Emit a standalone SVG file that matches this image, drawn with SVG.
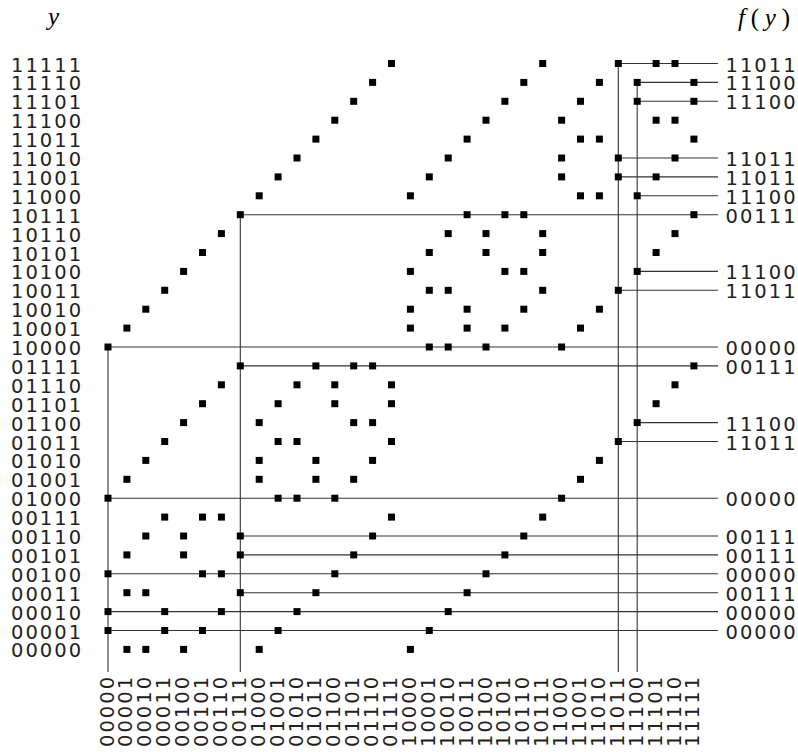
<svg xmlns="http://www.w3.org/2000/svg" xmlns:xlink="http://www.w3.org/1999/xlink" width="798" height="752" viewBox="0 0 798 752">
<style>
.lb{font-family:"DejaVu Sans",sans-serif;font-size:19.5px;fill:#222;letter-spacing:2px}
.m{font-family:"Liberation Serif",serif;font-size:25px;fill:#000}
.it{font-style:italic}
.cn line{stroke:#333;stroke-width:1.1}
</style>
<defs><rect id="d" x="-3.5" y="-3.5" width="7" height="7" fill="#000"/></defs>
<rect width="798" height="752" fill="#fff"/>
<text class="m it" x="48" y="25">y</text>
<text class="m" x="738" y="26" textLength="52" lengthAdjust="spacing"><tspan class="it">f</tspan>(<tspan class="it">y</tspan>)</text>
<g id="labels-y" class="lb">
<text x="11" y="71.5">11111</text><text x="11" y="90.4">11110</text><text x="11" y="109.3">11101</text><text x="11" y="128.2">11100</text>
<text x="11" y="147.1">11011</text><text x="11" y="166">11010</text><text x="11" y="184.9">11001</text><text x="11" y="203.8">11000</text>
<text x="11" y="222.7">10111</text><text x="11" y="241.6">10110</text><text x="11" y="260.5">10101</text><text x="11" y="279.4">10100</text>
<text x="11" y="298.3">10011</text><text x="11" y="317.2">10010</text><text x="11" y="336.1">10001</text><text x="11" y="355">10000</text>
<text x="11" y="373.9">01111</text><text x="11" y="392.8">01110</text><text x="11" y="411.7">01101</text><text x="11" y="430.6">01100</text>
<text x="11" y="449.5">01011</text><text x="11" y="468.4">01010</text><text x="11" y="487.3">01001</text><text x="11" y="506.2">01000</text>
<text x="11" y="525.1">00111</text><text x="11" y="544">00110</text><text x="11" y="562.9">00101</text><text x="11" y="581.8">00100</text>
<text x="11" y="600.7">00011</text><text x="11" y="619.6">00010</text><text x="11" y="638.5">00001</text><text x="11" y="657.4">00000</text>
</g>
<g id="labels-x" class="lb">
<text transform="translate(113.5 747) rotate(-90)">00000</text><text transform="translate(132.4 747) rotate(-90)">00001</text>
<text transform="translate(151.3 747) rotate(-90)">00010</text><text transform="translate(170.2 747) rotate(-90)">00011</text>
<text transform="translate(189.1 747) rotate(-90)">00100</text><text transform="translate(208 747) rotate(-90)">00101</text>
<text transform="translate(226.9 747) rotate(-90)">00110</text><text transform="translate(245.8 747) rotate(-90)">00111</text>
<text transform="translate(264.7 747) rotate(-90)">01000</text><text transform="translate(283.6 747) rotate(-90)">01001</text>
<text transform="translate(302.5 747) rotate(-90)">01010</text><text transform="translate(321.4 747) rotate(-90)">01011</text>
<text transform="translate(340.3 747) rotate(-90)">01100</text><text transform="translate(359.2 747) rotate(-90)">01101</text>
<text transform="translate(378.1 747) rotate(-90)">01110</text><text transform="translate(397 747) rotate(-90)">01111</text>
<text transform="translate(415.9 747) rotate(-90)">10000</text><text transform="translate(434.8 747) rotate(-90)">10001</text>
<text transform="translate(453.7 747) rotate(-90)">10010</text><text transform="translate(472.6 747) rotate(-90)">10011</text>
<text transform="translate(491.5 747) rotate(-90)">10100</text><text transform="translate(510.4 747) rotate(-90)">10101</text>
<text transform="translate(529.3 747) rotate(-90)">10110</text><text transform="translate(548.2 747) rotate(-90)">10111</text>
<text transform="translate(567.1 747) rotate(-90)">11000</text><text transform="translate(586 747) rotate(-90)">11001</text>
<text transform="translate(604.9 747) rotate(-90)">11010</text><text transform="translate(623.8 747) rotate(-90)">11011</text>
<text transform="translate(642.7 747) rotate(-90)">11100</text><text transform="translate(661.6 747) rotate(-90)">11101</text>
<text transform="translate(680.5 747) rotate(-90)">11110</text><text transform="translate(699.4 747) rotate(-90)">11111</text>
</g>
<g id="connectors" class="cn">
<line x1="108" y1="347" x2="108" y2="672"/>
<line x1="240.3" y1="214.7" x2="240.3" y2="672"/>
<line x1="618.3" y1="63.5" x2="618.3" y2="672"/>
<line x1="637.2" y1="82.4" x2="637.2" y2="672"/>
<line x1="618.3" y1="63.5" x2="718" y2="63.5"/>
<line x1="637.2" y1="82.4" x2="718" y2="82.4"/>
<line x1="637.2" y1="101.3" x2="718" y2="101.3"/>
<line x1="618.3" y1="158" x2="718" y2="158"/>
<line x1="618.3" y1="176.9" x2="718" y2="176.9"/>
<line x1="637.2" y1="195.8" x2="718" y2="195.8"/>
<line x1="240.3" y1="214.7" x2="718" y2="214.7"/>
<line x1="637.2" y1="271.4" x2="718" y2="271.4"/>
<line x1="618.3" y1="290.3" x2="718" y2="290.3"/>
<line x1="108" y1="347" x2="718" y2="347"/>
<line x1="240.3" y1="365.9" x2="718" y2="365.9"/>
<line x1="637.2" y1="422.6" x2="718" y2="422.6"/>
<line x1="618.3" y1="441.5" x2="718" y2="441.5"/>
<line x1="108" y1="498.2" x2="718" y2="498.2"/>
<line x1="240.3" y1="536" x2="718" y2="536"/>
<line x1="240.3" y1="554.9" x2="718" y2="554.9"/>
<line x1="108" y1="573.8" x2="718" y2="573.8"/>
<line x1="240.3" y1="592.7" x2="718" y2="592.7"/>
<line x1="108" y1="611.6" x2="718" y2="611.6"/>
<line x1="108" y1="630.5" x2="718" y2="630.5"/>
</g>
<g id="labels-f" class="lb">
<text x="725.5" y="71.5">11011</text><text x="725.5" y="90.4">11100</text><text x="725.5" y="109.3">11100</text>
<text x="725.5" y="166">11011</text><text x="725.5" y="184.9">11011</text><text x="725.5" y="203.8">11100</text>
<text x="725.5" y="222.7">00111</text><text x="725.5" y="279.4">11100</text><text x="725.5" y="298.3">11011</text>
<text x="725.5" y="355">00000</text><text x="725.5" y="373.9">00111</text><text x="725.5" y="430.6">11100</text>
<text x="725.5" y="449.5">11011</text><text x="725.5" y="506.2">00000</text><text x="725.5" y="544">00111</text>
<text x="725.5" y="562.9">00111</text><text x="725.5" y="581.8">00000</text><text x="725.5" y="600.7">00111</text>
<text x="725.5" y="619.6">00000</text><text x="725.5" y="638.5">00000</text>
</g>
<g id="nodes">
<g id="r31"><use href="#d" x="391.5" y="63.5"/><use href="#d" x="542.7" y="63.5"/><use href="#d" x="618.3" y="63.5"/><use href="#d" x="656.1" y="63.5"/><use href="#d" x="675" y="63.5"/></g>
<g id="r30"><use href="#d" x="372.6" y="82.4"/><use href="#d" x="523.8" y="82.4"/><use href="#d" x="599.4" y="82.4"/><use href="#d" x="637.2" y="82.4"/><use href="#d" x="693.9" y="82.4"/></g>
<g id="r29"><use href="#d" x="353.7" y="101.3"/><use href="#d" x="504.9" y="101.3"/><use href="#d" x="580.5" y="101.3"/><use href="#d" x="637.2" y="101.3"/><use href="#d" x="693.9" y="101.3"/></g>
<g id="r28"><use href="#d" x="334.8" y="120.2"/><use href="#d" x="486" y="120.2"/><use href="#d" x="561.6" y="120.2"/><use href="#d" x="656.1" y="120.2"/><use href="#d" x="675" y="120.2"/></g>
<g id="r27"><use href="#d" x="315.9" y="139.1"/><use href="#d" x="467.1" y="139.1"/><use href="#d" x="580.5" y="139.1"/><use href="#d" x="599.4" y="139.1"/><use href="#d" x="693.9" y="139.1"/></g>
<g id="r26"><use href="#d" x="297" y="158"/><use href="#d" x="448.2" y="158"/><use href="#d" x="561.6" y="158"/><use href="#d" x="618.3" y="158"/><use href="#d" x="675" y="158"/></g>
<g id="r25"><use href="#d" x="278.1" y="176.9"/><use href="#d" x="429.3" y="176.9"/><use href="#d" x="561.6" y="176.9"/><use href="#d" x="618.3" y="176.9"/><use href="#d" x="656.1" y="176.9"/></g>
<g id="r24"><use href="#d" x="259.2" y="195.8"/><use href="#d" x="410.4" y="195.8"/><use href="#d" x="580.5" y="195.8"/><use href="#d" x="599.4" y="195.8"/><use href="#d" x="637.2" y="195.8"/></g>
<g id="r23"><use href="#d" x="240.3" y="214.7"/><use href="#d" x="467.1" y="214.7"/><use href="#d" x="504.9" y="214.7"/><use href="#d" x="523.8" y="214.7"/><use href="#d" x="693.9" y="214.7"/></g>
<g id="r22"><use href="#d" x="221.4" y="233.6"/><use href="#d" x="448.2" y="233.6"/><use href="#d" x="486" y="233.6"/><use href="#d" x="542.7" y="233.6"/><use href="#d" x="675" y="233.6"/></g>
<g id="r21"><use href="#d" x="202.5" y="252.5"/><use href="#d" x="429.3" y="252.5"/><use href="#d" x="486" y="252.5"/><use href="#d" x="542.7" y="252.5"/><use href="#d" x="656.1" y="252.5"/></g>
<g id="r20"><use href="#d" x="183.6" y="271.4"/><use href="#d" x="410.4" y="271.4"/><use href="#d" x="504.9" y="271.4"/><use href="#d" x="523.8" y="271.4"/><use href="#d" x="637.2" y="271.4"/></g>
<g id="r19"><use href="#d" x="164.7" y="290.3"/><use href="#d" x="429.3" y="290.3"/><use href="#d" x="448.2" y="290.3"/><use href="#d" x="542.7" y="290.3"/><use href="#d" x="618.3" y="290.3"/></g>
<g id="r18"><use href="#d" x="145.8" y="309.2"/><use href="#d" x="410.4" y="309.2"/><use href="#d" x="467.1" y="309.2"/><use href="#d" x="523.8" y="309.2"/><use href="#d" x="599.4" y="309.2"/></g>
<g id="r17"><use href="#d" x="126.9" y="328.1"/><use href="#d" x="410.4" y="328.1"/><use href="#d" x="467.1" y="328.1"/><use href="#d" x="504.9" y="328.1"/><use href="#d" x="580.5" y="328.1"/></g>
<g id="r16"><use href="#d" x="108" y="347"/><use href="#d" x="429.3" y="347"/><use href="#d" x="448.2" y="347"/><use href="#d" x="486" y="347"/><use href="#d" x="561.6" y="347"/></g>
<g id="r15"><use href="#d" x="240.3" y="365.9"/><use href="#d" x="315.9" y="365.9"/><use href="#d" x="353.7" y="365.9"/><use href="#d" x="372.6" y="365.9"/><use href="#d" x="693.9" y="365.9"/></g>
<g id="r14"><use href="#d" x="221.4" y="384.8"/><use href="#d" x="297" y="384.8"/><use href="#d" x="334.8" y="384.8"/><use href="#d" x="391.5" y="384.8"/><use href="#d" x="675" y="384.8"/></g>
<g id="r13"><use href="#d" x="202.5" y="403.7"/><use href="#d" x="278.1" y="403.7"/><use href="#d" x="334.8" y="403.7"/><use href="#d" x="391.5" y="403.7"/><use href="#d" x="656.1" y="403.7"/></g>
<g id="r12"><use href="#d" x="183.6" y="422.6"/><use href="#d" x="259.2" y="422.6"/><use href="#d" x="353.7" y="422.6"/><use href="#d" x="372.6" y="422.6"/><use href="#d" x="637.2" y="422.6"/></g>
<g id="r11"><use href="#d" x="164.7" y="441.5"/><use href="#d" x="278.1" y="441.5"/><use href="#d" x="297" y="441.5"/><use href="#d" x="391.5" y="441.5"/><use href="#d" x="618.3" y="441.5"/></g>
<g id="r10"><use href="#d" x="145.8" y="460.4"/><use href="#d" x="259.2" y="460.4"/><use href="#d" x="315.9" y="460.4"/><use href="#d" x="372.6" y="460.4"/><use href="#d" x="599.4" y="460.4"/></g>
<g id="r9"><use href="#d" x="126.9" y="479.3"/><use href="#d" x="259.2" y="479.3"/><use href="#d" x="315.9" y="479.3"/><use href="#d" x="353.7" y="479.3"/><use href="#d" x="580.5" y="479.3"/></g>
<g id="r8"><use href="#d" x="108" y="498.2"/><use href="#d" x="278.1" y="498.2"/><use href="#d" x="297" y="498.2"/><use href="#d" x="334.8" y="498.2"/><use href="#d" x="561.6" y="498.2"/></g>
<g id="r7"><use href="#d" x="164.7" y="517.1"/><use href="#d" x="202.5" y="517.1"/><use href="#d" x="221.4" y="517.1"/><use href="#d" x="391.5" y="517.1"/><use href="#d" x="542.7" y="517.1"/></g>
<g id="r6"><use href="#d" x="145.8" y="536"/><use href="#d" x="183.6" y="536"/><use href="#d" x="240.3" y="536"/><use href="#d" x="372.6" y="536"/><use href="#d" x="523.8" y="536"/></g>
<g id="r5"><use href="#d" x="126.9" y="554.9"/><use href="#d" x="183.6" y="554.9"/><use href="#d" x="240.3" y="554.9"/><use href="#d" x="353.7" y="554.9"/><use href="#d" x="504.9" y="554.9"/></g>
<g id="r4"><use href="#d" x="108" y="573.8"/><use href="#d" x="202.5" y="573.8"/><use href="#d" x="221.4" y="573.8"/><use href="#d" x="334.8" y="573.8"/><use href="#d" x="486" y="573.8"/></g>
<g id="r3"><use href="#d" x="126.9" y="592.7"/><use href="#d" x="145.8" y="592.7"/><use href="#d" x="240.3" y="592.7"/><use href="#d" x="315.9" y="592.7"/><use href="#d" x="467.1" y="592.7"/></g>
<g id="r2"><use href="#d" x="108" y="611.6"/><use href="#d" x="164.7" y="611.6"/><use href="#d" x="221.4" y="611.6"/><use href="#d" x="297" y="611.6"/><use href="#d" x="448.2" y="611.6"/></g>
<g id="r1"><use href="#d" x="108" y="630.5"/><use href="#d" x="164.7" y="630.5"/><use href="#d" x="202.5" y="630.5"/><use href="#d" x="278.1" y="630.5"/><use href="#d" x="429.3" y="630.5"/></g>
<g id="r0"><use href="#d" x="126.9" y="649.4"/><use href="#d" x="145.8" y="649.4"/><use href="#d" x="183.6" y="649.4"/><use href="#d" x="259.2" y="649.4"/><use href="#d" x="410.4" y="649.4"/></g>
</g>
</svg>
